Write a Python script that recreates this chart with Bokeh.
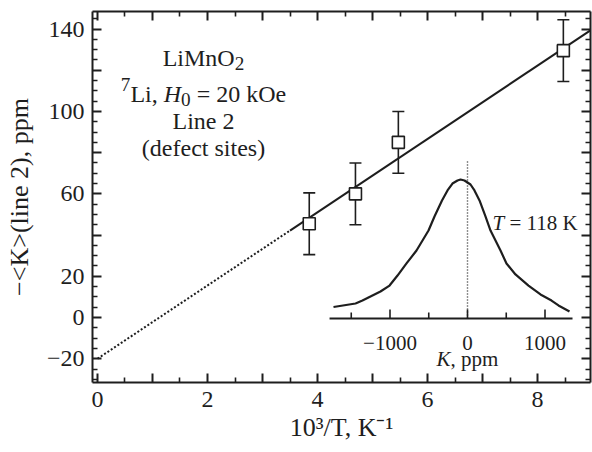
import math
from bokeh.plotting import figure
from bokeh.models import (Range1d, LinearAxis, FixedTicker, ColumnDataSource,
                          Whisker, TeeHead, Label)
from bokeh.embed import file_html
from bokeh.resources import INLINE

# ---------------- data ----------------
inv_T = [3.85, 4.69, 5.47, 8.47]          # 10^3/T, K^-1
K_mean = [45.5, 60.0, 85.0, 129.5]        # -<K>(line 2), ppm
K_err = [15.0, 15.0, 15.0, 15.0]

fit_solid_x = [3.5, 9.0]
fit_solid_y = [42.2, 140.0]
fit_dot_x = [0.0, 3.5]
fit_dot_y = [-20.0, 42.2]

x_major_ticks = [0, 1, 2, 3, 4, 5, 6, 7, 8, 9]
x_tick_labels = ["0", "", "2", "", "4", "", "6", "", "8", ""]
x_minor_ticks = [0.5, 1.5, 2.5, 3.5, 4.5, 5.5, 6.5, 7.5, 8.5]
y_major_ticks = [-20, 0, 20, 40, 60, 80, 100, 120, 140]
y_tick_labels = ["\u221220", "0", "20", "", "60", "", "100", "", "140"]
y_minor_ticks = [v for v in range(-30, 150, 5) if v % 20 != 0]

x_title = "10\u00b3/T, K\u207b\u00b9"
y_title = "\u2212<K>(line 2), ppm"

# inset spectrum (T = 118 K), K in ppm, intensity in arb. units
spec_K = [-1729, -1445, -1355, -1226, -1123, -1006, -903, -787, -658, -503,
          -426, -329, -258, -194, -129, -90, -39, 39, 90, 155,
          232, 297, 426, 503, 619, 787, 942, 1084, 1174, 1316]
spec_I = [0.083, 0.108, 0.129, 0.165, 0.194, 0.237, 0.309, 0.396, 0.489, 0.633,
          0.734, 0.849, 0.921, 0.971, 0.993, 1.0, 0.993, 0.964, 0.921, 0.849,
          0.734, 0.633, 0.489, 0.396, 0.317, 0.237, 0.173, 0.129, 0.094, 0.050]
inset_major = [-1000, 0, 1000]
inset_labels = ["\u22121000", "0", "1000"]
inset_minor = [-1500, -500, 500]
inset_axis_span = [-1780, 1355]
inset_zero_top = 1.14

# ---------------- geometry / style ----------------
W, H = 592, 452
FL, FR, FT, FB = 92, 590, 11, 382      # frame edges in page pixels
X0, X1 = -0.0909, 8.9636
Y0, Y1 = -31.54, 148.5
C = "#1e1e1e"
FONT = "Liberation Serif"
FS = 24
FS_LAB = 26
FS_IN = 21

IK_PX0, IK_SCALE = 467.0, 0.0775      # inset: K=0 at px 467, px per ppm
IBASE, IPX = 318.0, 139.0             # inset: baseline py, px per unit intensity
IX0 = (FL - IK_PX0) / IK_SCALE
IX1 = (FR - IK_PX0) / IK_SCALE
IY0 = -(FB - IBASE) / IPX
IY1 = (IBASE - FT) / IPX


def px2x(px):
    return X0 + (px - FL) / (FR - FL) * (X1 - X0)


def py2y(py):
    return Y1 - (py - FT) / (FB - FT) * (Y1 - Y0)


p = figure(width=W, height=H, output_backend="svg", toolbar_location=None,
           x_range=Range1d(X0, X1), y_range=Range1d(Y0, Y1),
           min_border_left=FL, min_border_right=W - FR,
           min_border_top=FT, min_border_bottom=H - FB,
           x_axis_location=None, y_axis_location=None)
p.grid.visible = False
p.outline_line_color = None
p.border_fill_color = "white"
p.extra_x_ranges = {"ins": Range1d(IX0, IX1)}
p.extra_y_ranges = {"ins": Range1d(IY0, IY1)}


def make_axis(kind, labels):
    if kind == "x":
        ticker = FixedTicker(ticks=x_major_ticks, minor_ticks=x_minor_ticks)
        ticks, labs = x_major_ticks, x_tick_labels
    else:
        ticker = FixedTicker(ticks=y_major_ticks, minor_ticks=y_minor_ticks)
        ticks, labs = y_major_ticks, y_tick_labels
    ax = LinearAxis(ticker=ticker)
    ax.axis_line_width = 2
    ax.axis_line_color = C
    ax.major_tick_in = 9
    ax.major_tick_out = 0
    ax.minor_tick_in = 5
    ax.minor_tick_out = 0
    ax.major_tick_line_width = 2
    ax.minor_tick_line_width = 1.6
    ax.major_tick_line_color = C
    ax.minor_tick_line_color = C
    if labels:
        ax.major_label_overrides = {t: l for t, l in zip(ticks, labs)}
        ax.major_label_text_font = FONT
        ax.major_label_text_font_size = f"{FS}px"
        ax.major_label_text_color = C
        ax.major_label_standoff = 9 if kind == "x" else 8
        ax.axis_label = x_title if kind == "x" else y_title
        ax.axis_label_text_font = FONT
        ax.axis_label_text_font_size = f"{FS_LAB}px"
        ax.axis_label_text_font_style = "normal"
        ax.axis_label_text_color = C
        ax.axis_label_standoff = 3 if kind == "x" else 10
    else:
        ax.major_label_overrides = {t: "" for t in ticks}
        ax.major_label_text_font_size = "0px"
        ax.major_label_standoff = 0
    return ax


p.add_layout(make_axis("x", True), "below")
p.add_layout(make_axis("x", False), "above")
p.add_layout(make_axis("y", True), "left")
p.add_layout(make_axis("y", False), "right")

# ---------------- fit line ----------------
p.line(fit_dot_x, fit_dot_y, line_width=2, line_color=C, line_dash="2 2")
p.line(fit_solid_x, fit_solid_y, line_width=2, line_color=C)

# ---------------- data points ----------------
src = ColumnDataSource(dict(
    x=inv_T, y=K_mean,
    upper=[m + e for m, e in zip(K_mean, K_err)],
    lower=[m - e for m, e in zip(K_mean, K_err)]))
wh = Whisker(base="x", upper="upper", lower="lower", source=src,
             dimension="height", line_width=1.6, line_color=C,
             upper_head=TeeHead(size=12, line_width=1.6, line_color=C),
             lower_head=TeeHead(size=12, line_width=1.6, line_color=C))
p.add_layout(wh)
p.scatter("x", "y", source=src, marker="square", size=12,
          fill_color="white", line_color=C, line_width=1.6)

# ---------------- inset ----------------
p.line(spec_K, spec_I, x_range_name="ins", y_range_name="ins",
       line_width=2.2, line_color=C, line_join="round")
p.line([0, 0], [0, inset_zero_top], x_range_name="ins", y_range_name="ins",
       line_width=1.4, line_color=C, line_dash="1 2")
p.line(inset_axis_span, [0, 0], x_range_name="ins", y_range_name="ins",
       line_width=2, line_color=C)
p.segment(x0=inset_major, y0=[0] * 3, x1=inset_major, y1=[9 / IPX] * 3,
          x_range_name="ins", y_range_name="ins", line_width=1.6, line_color=C)
p.segment(x0=inset_minor, y0=[0] * 3, x1=inset_minor, y1=[6 / IPX] * 3,
          x_range_name="ins", y_range_name="ins", line_width=1.6, line_color=C)
for k, lab in zip(inset_major, inset_labels):
    p.add_layout(Label(x=k, y=0, x_range_name="ins", y_range_name="ins",
                       text=lab, text_align="center", text_baseline="alphabetic",
                       y_offset=-(342 - IBASE), text_font=FONT,
                       text_font_size=f"{FS_IN}px", text_color=C))

# ---------------- rich text helper ----------------
TW = {' ': 250, '(': 333, ')': 333, ',': 250, '/': 278, '<': 564, '>': 564,
      '=': 564, '\u2212': 564, 'L': 611, 'M': 889, 'O': 722, 'K': 722,
      'a': 444, 'c': 444, 'd': 500, 'e': 444, 'f': 333, 'i': 278, 'k': 500,
      'l': 278, 'm': 778, 'n': 500, 'p': 500, 's': 389, 't': 278}
for d in "0123456789":
    TW[d] = 500
TW_IT = {'H': 722, 'K': 667, 'T': 556}


def piece_size(kind, fs):
    return fs * 0.8 if kind in ("sub", "sup") else fs


def piece_width(t, kind, fs):
    tbl = TW_IT if kind == "i" else TW
    return sum(tbl.get(ch, 500) for ch in t) / 1000.0 * piece_size(kind, fs)


def rich(fig, pieces, x, y, fs, align="center"):
    total = sum(piece_width(t, k, fs) for t, k in pieces)
    pos = -total / 2 if align == "center" else 0.0
    for t, k in pieces:
        size = piece_size(k, fs)
        lead = len(t) - len(t.lstrip(" "))
        pos += lead * 0.25 * size
        body = t.lstrip(" ")
        shift = -0.25 * fs if k == "sub" else (0.36 * fs if k == "sup" else 0.0)
        fig.add_layout(Label(x=x, y=y, text=body, x_offset=pos, y_offset=shift,
                             text_font=FONT, text_font_size=f"{size:.1f}px",
                             text_font_style="italic" if k == "i" else "normal",
                             text_align="left", text_baseline="alphabetic",
                             text_color=C))
        pos += piece_width(body, k, fs)


rich(p, [("LiMnO", "n"), ("2", "sub")], px2x(203), py2y(57), FS)
rich(p, [("7", "sup"), ("Li, ", "n"), ("H", "i"), ("0", "sub"), (" = 20 kOe", "n")],
     px2x(203), py2y(93), FS)
rich(p, [("Line 2", "n")], px2x(203), py2y(120), FS)
rich(p, [("(defect sites)", "n")], px2x(203), py2y(147), FS)
rich(p, [("T", "i"), (" = 118 K", "n")], px2x(492), py2y(222), FS_IN, align="left")
rich(p, [("K", "i"), (", ppm", "n")], px2x(467), py2y(358), FS_IN)

open("out.html", "w").write(file_html(p, INLINE))
